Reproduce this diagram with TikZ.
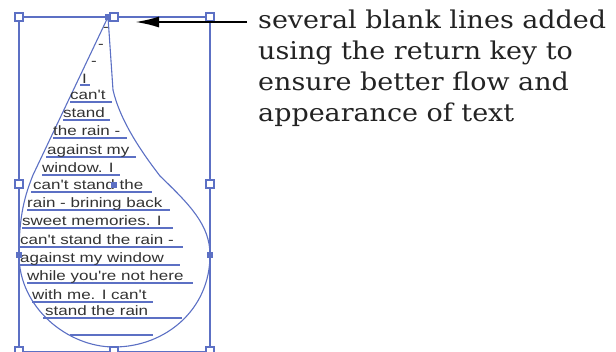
\documentclass[tikz,border=0pt]{standalone}
\usepackage{fontspec}
\usetikzlibrary{arrows.meta}
\newfontfamily\dropfont[FakeStretch=1.25]{Liberation Sans}
\newfontfamily\notefont[FakeStretch=1.1]{DejaVu Serif}
\definecolor{selblue}{RGB}{92,112,196}
\definecolor{droptext}{RGB}{50,50,50}
\definecolor{notetext}{RGB}{35,35,35}
\tikzset{
  frame/.style={draw=selblue, line width=1.2pt},
  dropline/.style={draw=selblue, line width=1.1pt},
  handle/.style={draw=selblue, fill=white, line width=1.1pt, rectangle, minimum size=8pt, inner sep=0pt},
  anchorpt/.style={fill=selblue, rectangle, minimum size=6pt, inner sep=0pt},
  dirline/.style={draw=selblue, line width=2.2pt},
  dtext/.style={anchor=base west, inner sep=0pt, text=droptext, font=\dropfont\fontsize{13.6}{14}\selectfont},
  uline/.style={draw=selblue, line width=1.3pt},
  ntext/.style={anchor=base west, inner sep=0pt, text=notetext, font=\notefont\fontsize{24.5}{28}\selectfont},
  arrowline/.style={draw=black, line width=2.2pt, -{Latex[length=24pt,width=11pt]}}
}
\begin{document}
\begin{tikzpicture}[x=1pt,y=-1pt]
\useasboundingbox (0,0) rectangle (616,351);
% selection frame
\draw[frame] (19,17) rectangle (210,352);
% drop outline
\draw[dropline] (108,17) -- (113,90) .. controls (120,120) and (140,150) .. (160,176)
  .. controls (190,205) and (210,225) .. (210,255)
  .. controls (210,310) and (165,347) .. (114,347)
  .. controls (68,347) and (19,308) .. (19,255)
  .. controls (19,215) and (25,195) .. (33,175) -- cycle;
% direction handles
\draw[dirline] (19,234) -- (19,255);
\draw[dirline] (210,255) -- (210,278);
% underlines
\draw[uline] (80,85) -- (90,85);
\draw[uline] (70,102) -- (112,102);
\draw[uline] (63,120) -- (110,120);
\draw[uline] (53,138) -- (127,138);
\draw[uline] (46,157) -- (136,157);
\draw[uline] (42,175) -- (120,175);
\draw[uline] (31,192) -- (152,192);
\draw[uline] (27,210) -- (170,210);
\draw[uline] (22,228) -- (173,228);
\draw[uline] (20,247) -- (183,247);
\draw[uline] (20,265) -- (180,265);
\draw[uline] (27,283) -- (193,283);
\draw[uline] (32,302) -- (153,302);
\draw[uline] (43,318) -- (182,318);
\draw[uline] (70,335) -- (153,335);
% drop text
\node[dtext] (d1) at (103,31) {-};
\node[dtext] (d2) at (98,48) {-};
\node[dtext] (d3) at (91,65) {-};
\node[dtext] (t1) at (82,83) {I};
\node[dtext] (t2) at (70,99) {can't};
\node[dtext] (t3) at (63,117) {stand};
\node[dtext] (t4) at (53,135) {the rain -};
\node[dtext] (t5) at (47,154) {against my};
\node[dtext] (t6) at (42,172) {window. I};
\node[dtext] (t7) at (33,189) {can't stand the};
\node[dtext] (t8) at (27,207) {rain - brining back};
\node[dtext] (t9) at (22,225) {sweet memories. I};
\node[dtext] (t10) at (20,244) {can't stand the rain -};
\node[dtext] (t11) at (20,262) {against my window};
\node[dtext] (t12) at (27,280) {while you're not here};
\node[dtext] (t13) at (32,299) {with me. I can't};
\node[dtext] (t14) at (45,315) {stand the rain};
% handles
\node[handle] (h1) at (19,17) {};
\node[handle] (h2) at (114,17) {};
\node[handle] (h3) at (210,17) {};
\node[handle] (h4) at (19,184) {};
\node[handle] (h5) at (210,184) {};
\node[handle] (h6) at (19,351) {};
\node[handle] (h7) at (114,351) {};
\node[handle] (h8) at (210,351) {};
% anchor points
\node[anchorpt] (p1) at (108,17) {};
\node[anchorpt] (p2) at (114,185) {};
\node[anchorpt] (p3) at (19,255) {};
\node[anchorpt] (p4) at (210,255) {};
% note
\node[ntext] (n1) at (258,28) {several blank lines added};
\node[ntext] (n2) at (258,59) {using the return key to};
\node[ntext] (n3) at (258,90) {ensure better flow and};
\node[ntext] (n4) at (258,121) {appearance of text};
\coordinate (a0) at (247,22);
\coordinate (a1) at (135,22);
\draw[arrowline] (a0) -- (a1);
\end{tikzpicture}
\end{document}
